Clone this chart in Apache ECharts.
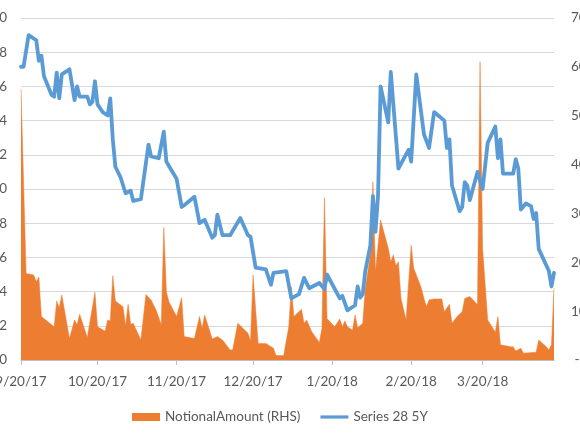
<!DOCTYPE html>
<html>
<head>
<meta charset="utf-8">
<script src="https://cdn.jsdelivr.net/npm/echarts@6/dist/echarts.min.js"></script>
<style>
html,body{margin:0;padding:0;background:#fff;}
#chart{width:580px;height:435px;}
</style>
</head>
<body>
<div id="chart"></div>
<script>
// ---- Data ----
const seriesName = 'Series 28 5Y';
const notionalName = 'NotionalAmount (RHS)';

const spreadDates = ['2017-09-20','2017-09-21','2017-09-23','2017-09-26','2017-09-27','2017-09-28','2017-09-29',
'2017-10-02','2017-10-03','2017-10-04','2017-10-05','2017-10-06','2017-10-09','2017-10-11','2017-10-12','2017-10-13',
'2017-10-16','2017-10-17','2017-10-18','2017-10-19','2017-10-20','2017-10-22','2017-10-24','2017-10-25','2017-10-26',
'2017-10-27','2017-10-29','2017-10-31','2017-11-02','2017-11-03','2017-11-06','2017-11-09','2017-11-10','2017-11-13',
'2017-11-15','2017-11-16','2017-11-18','2017-11-20','2017-11-22','2017-11-23','2017-11-27','2017-11-29','2017-12-01',
'2017-12-04','2017-12-05','2017-12-06','2017-12-08','2017-12-11','2017-12-15','2017-12-18','2017-12-19','2017-12-21',
'2017-12-25','2017-12-27','2017-12-28','2018-01-02','2018-01-04','2018-01-07','2018-01-09','2018-01-11','2018-01-15',
'2018-01-17','2018-01-18','2018-01-23','2018-01-24','2018-01-26','2018-01-29','2018-01-30','2018-01-31','2018-02-01',
'2018-02-02','2018-02-04','2018-02-05','2018-02-06','2018-02-07','2018-02-08','2018-02-11','2018-02-12','2018-02-15',
'2018-02-19','2018-02-20','2018-02-22','2018-02-25','2018-02-27','2018-03-01','2018-03-05','2018-03-06','2018-03-07',
'2018-03-08','2018-03-11','2018-03-12','2018-03-13','2018-03-14','2018-03-15','2018-03-18','2018-03-20','2018-03-22',
'2018-03-25','2018-03-26','2018-03-27','2018-03-28','2018-04-01','2018-04-02','2018-04-03','2018-04-04','2018-04-06',
'2018-04-08','2018-04-09','2018-04-10','2018-04-11','2018-04-15','2018-04-16','2018-04-17'];
const spreadValues = [67.15,67.15,69.0,68.7,67.5,67.8,66.6,
65.5,65.4,66.8,65.3,66.7,67.0,65.2,66.0,65.4,
65.4,64.95,65.1,66.3,64.95,64.5,64.3,65.3,62.9,
61.3,60.7,59.75,59.9,59.3,59.4,62.6,61.9,61.8,
63.35,61.6,61.1,60.6,58.95,59.05,59.55,58.0,58.2,
57.15,57.3,58.5,57.3,57.3,58.3,57.3,57.2,55.4,
55.3,54.4,55.1,55.2,53.6,53.85,54.8,54.2,54.5,
54.15,55.0,53.6,53.75,52.9,53.2,54.3,53.65,53.85,
55.2,56.7,59.6,57.5,59.6,66.0,63.9,66.85,61.2,
62.3,61.6,66.7,63.2,62.4,64.5,64.0,62.4,62.9,
60.2,58.7,58.95,60.4,60.2,59.35,61.0,60.0,62.7,
63.65,61.8,62.9,60.9,60.9,61.75,61.2,58.8,59.15,
59.0,58.25,58.6,56.5,55.2,54.3,55.1];

const notionalDates = ['2017-09-20','2017-09-22','2017-09-25','2017-09-26','2017-09-27','2017-09-28','2017-10-03',
'2017-10-04','2017-10-05','2017-10-06','2017-10-09','2017-10-11','2017-10-12','2017-10-13','2017-10-16','2017-10-19',
'2017-10-20','2017-10-23','2017-10-24','2017-10-25','2017-10-26','2017-10-27','2017-10-30','2017-10-31','2017-11-01',
'2017-11-02','2017-11-03','2017-11-06','2017-11-08','2017-11-10','2017-11-12','2017-11-14','2017-11-15','2017-11-16',
'2017-11-17','2017-11-20','2017-11-22','2017-11-23','2017-11-27','2017-11-29','2017-11-30','2017-12-01','2017-12-04',
'2017-12-06','2017-12-08','2017-12-11','2017-12-12','2017-12-14','2017-12-18','2017-12-19','2017-12-20','2017-12-22',
'2017-12-25','2017-12-28','2017-12-29','2018-01-01','2018-01-03','2018-01-04','2018-01-05','2018-01-08','2018-01-09',
'2018-01-10','2018-01-12','2018-01-15','2018-01-16','2018-01-17','2018-01-18','2018-01-21','2018-01-23','2018-01-24',
'2018-01-25','2018-01-26','2018-01-28','2018-01-29','2018-01-30','2018-02-01','2018-02-02','2018-02-04','2018-02-05',
'2018-02-06','2018-02-08','2018-02-11','2018-02-12','2018-02-13','2018-02-14','2018-02-15','2018-02-16','2018-02-18',
'2018-02-20','2018-02-21','2018-02-24','2018-02-25','2018-02-26','2018-02-27','2018-03-01','2018-03-04','2018-03-05',
'2018-03-07','2018-03-08','2018-03-10','2018-03-12','2018-03-13','2018-03-15','2018-03-18','2018-03-19','2018-03-20',
'2018-03-22','2018-03-25','2018-03-26','2018-03-27','2018-03-31','2018-04-01','2018-04-02','2018-04-04','2018-04-05',
'2018-04-10','2018-04-11','2018-04-14','2018-04-15','2018-04-16','2018-04-17'];
const notionalValues = [55.5,17.7,17.4,16.0,17.0,8.9,6.8,
12.1,10.7,13.3,4.4,8.2,7.2,9.35,4.6,13.85,
6.8,5.9,8.2,8.0,17.25,12.1,10.9,7.0,11.4,
7.3,7.5,4.1,13.4,12.3,10.2,7.2,27.1,14.0,
11.9,8.9,12.75,4.8,4.4,8.9,6.5,9.2,4.3,
4.8,4.1,2.05,2.05,7.5,5.5,3.9,17.4,3.4,
3.4,2.4,0.9,0.9,6.8,15.0,8.9,10.4,7.5,
8.2,5.8,3.6,6.5,33.2,8.5,6.8,8.4,6.8,
8.0,6.8,6.1,9.2,6.6,7.5,14.7,21.5,36.5,
18.1,28.65,22.9,20.1,21.5,19.3,20.1,12.6,8.2,
23.5,18.8,14.7,12.6,10.9,12.3,12.5,12.5,9.9,
11.4,7.5,8.9,9.9,12.6,13.0,11.3,61.05,22.9,
8.2,5.7,8.9,3.1,2.7,2.7,1.85,2.4,1.4,
1.6,4.1,2.7,2.05,3.1,14.7];

const tickDates = ['2017-09-20','2017-10-20','2017-11-20','2017-12-20','2018-01-20','2018-02-20','2018-03-20'];
const xMin = '2017-09-20';
const xMax = '2018-04-17';
const leftMin = 50, leftMax = 70, leftStep = 2;
const rightMin = 0, rightMax = 70, rightStep = 10;

// ---- Helpers ----
function toTs(s){ const p = s.split('-').map(Number); return new Date(p[0], p[1]-1, p[2]).getTime(); }
function pairs(d, v){ return d.map((x,i)=>[toTs(x), v[i]]); }
const tickTs = tickDates.map(toTs);

const FONT = 'Lato, "Open Sans", sans-serif';
const TXT = '#595959';

const chart = echarts.init(document.getElementById('chart'), null, {renderer:'canvas'});
chart.setOption({
  animation: false,
  backgroundColor: '#ffffff',
  textStyle: {fontFamily: FONT},
  grid: {left: 21, right: 26, top: 18, bottom: 75, containLabel: false, outerBoundsMode: 'none'},
  legend: {
    left: 127, top: 405,
    itemWidth: 28, itemHeight: 8, itemGap: 20,
    textStyle: {color: TXT, fontSize: 13.5, fontFamily: FONT},
    data: [
      {name: notionalName, icon: 'rect'},
      {name: seriesName, icon: 'path://M0,0L28,0L28,3.2L0,3.2Z'}
    ]
  },
  xAxis: {
    type: 'value',
    min: toTs(xMin), max: toTs(xMax),
    axisLine: {show: true, lineStyle: {color: '#bfbfbf', width: 1}},
    axisTick: {show: true, customValues: tickTs, length: 5, lineStyle: {color: '#bfbfbf'}},
    axisLabel: {
      customValues: tickTs,
      hideOverlap: false,
      color: TXT, fontSize: 13.5, fontFamily: FONT, margin: 15,
      formatter: function(v){ const d = new Date(v); return (d.getMonth()+1)+'/'+d.getDate()+'/'+String(d.getFullYear()).slice(2); }
    },
    splitLine: {show: false}
  },
  yAxis: [
    {
      type: 'value', min: leftMin, max: leftMax, interval: leftStep,
      axisLine: {show: false}, axisTick: {show: false},
      axisLabel: {color: TXT, fontSize: 13.5, fontFamily: FONT, margin: 14},
      splitLine: {show: true, lineStyle: {color: '#d9d9d9', width: 1}}
    },
    {
      type: 'value', min: rightMin, max: rightMax, interval: rightStep, position: 'right',
      axisLine: {show: false}, axisTick: {show: false},
      axisLabel: {color: TXT, fontSize: 13.5, fontFamily: FONT, margin: 17, align: 'left',
        formatter: function(v){ return v === 0 ? ' -' : String(v); }},
      splitLine: {show: false}
    }
  ],
  series: [
    {
      name: notionalName, type: 'line', yAxisIndex: 1,
      data: pairs(notionalDates, notionalValues),
      symbol: 'none', showSymbol: false,
      lineStyle: {width: 0.5, color: '#ED7D31'},
      itemStyle: {color: '#ED7D31'},
      areaStyle: {color: '#ED7D31', opacity: 1},
      z: 1
    },
    {
      name: seriesName, type: 'line', yAxisIndex: 0,
      data: pairs(spreadDates, spreadValues),
      symbol: 'none', showSymbol: false,
      lineStyle: {width: 3.8, color: '#5B9BD5', join: 'round', cap: 'round'},
      itemStyle: {color: '#5B9BD5'},
      z: 3
    }
  ]
});
</script>
</body>
</html>
